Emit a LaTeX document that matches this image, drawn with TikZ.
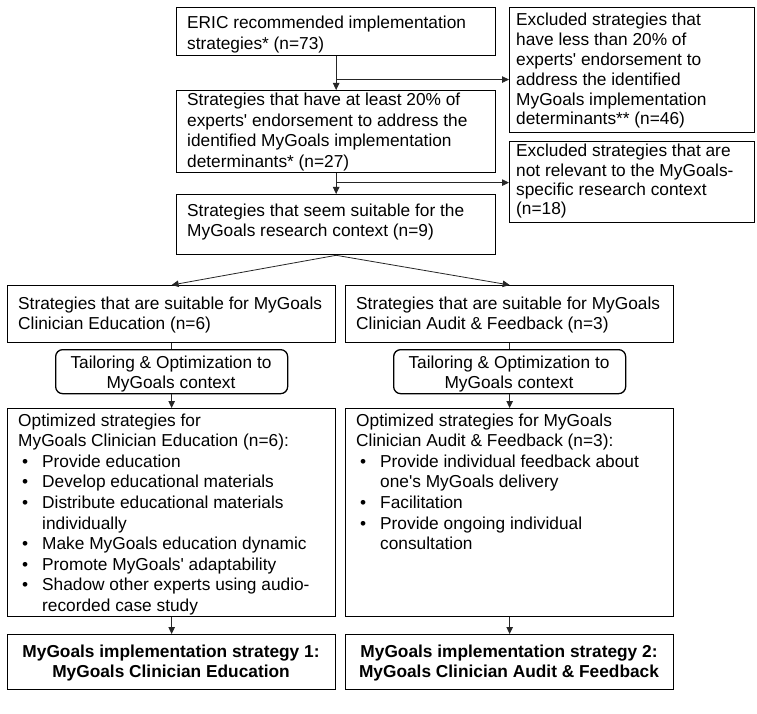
\documentclass[tikz,border=0pt]{standalone}
\usepackage{fontspec}
\setmainfont{Liberation Sans}[Ligatures=TeXOff]
\usetikzlibrary{arrows.meta}
\newcommand{\tlines}[1]{\begin{tabular}[t]{@{}l@{}}#1\end{tabular}}
\newcommand{\tclines}[1]{\begin{tabular}[t]{@{}c@{}}#1\end{tabular}}
\newcommand{\bul}{\makebox[24pt][l]{\hspace{4pt}•}}
\newcommand{\ind}{\hspace*{24pt}}
\begin{document}
\begin{tikzpicture}[x=1pt,y=-1pt,
  box/.style={draw=black, line width=1.3pt, rectangle, anchor=north west, inner sep=0pt},
  rbox/.style={box, rounded corners=7pt},
  txt/.style={anchor=base west, inner sep=0pt, font=\fontsize{17.3}{20.5}\selectfont},
  ctxt/.style={txt, anchor=base},
  conn/.style={draw=black!85, line width=0.8pt},
  arr/.style={conn, -{Triangle[length=7pt,width=6.5pt]}}]
\fill[white] (0,0) rectangle (757,714);
\useasboundingbox (0,0) rectangle (757,714);
% boxes
\node[box, minimum width=319pt, minimum height=48pt] (A) at (176,7) {};
\node[box, minimum width=319pt, minimum height=82pt] (B) at (176,90) {};
\node[box, minimum width=319pt, minimum height=60pt] (D) at (176,194) {};
\node[box, minimum width=245pt, minimum height=125pt] (C) at (509,7) {};
\node[box, minimum width=245pt, minimum height=81pt] (E) at (509,141) {};
\node[box, minimum width=328pt, minimum height=57pt] (F) at (7,285) {};
\node[box, minimum width=328pt, minimum height=57pt] (G) at (345,285) {};
\node[rbox, minimum width=232pt, minimum height=44pt] (T1) at (55,349) {};
\node[rbox, minimum width=232pt, minimum height=44pt] (T2) at (393,349) {};
\node[box, minimum width=328pt, minimum height=208pt] (H) at (7,408) {};
\node[box, minimum width=328pt, minimum height=208pt] (I) at (345,408) {};
\node[box, minimum width=328pt, minimum height=55pt] (J) at (7,634) {};
\node[box, minimum width=328pt, minimum height=55pt] (K) at (345,634) {};
% texts
\node[txt] (At) at (187,29) {\tlines{ERIC recommended implementation\\strategies* (n=73)}};
\node[txt] (Bt) at (187,106) {\tlines{Strategies that have at least 20\% of\\experts' endorsement to address the\\identified MyGoals implementation\\determinants* (n=27)}};
\node[txt] (Dt) at (187,216) {\tlines{Strategies that seem suitable for the\\MyGoals research context (n=9)}};
\node[txt, font=\fontsize{17.3}{19.8}\selectfont] (Ct) at (516,26) {\tlines{Excluded strategies that\\have less than 20\% of\\experts' endorsement to\\address the identified\\MyGoals implementation\\determinants** (n=46)}};
\node[txt, font=\fontsize{17.3}{19.3}\selectfont] (Et) at (516,157) {\tlines{Excluded strategies that are\\not relevant to the MyGoals-\\specific research context\\(n=18)}};
\node[txt] (Ft) at (18,309) {\tlines{Strategies that are suitable for MyGoals\\Clinician Education (n=6)}};
\node[txt] (Gt) at (356,309) {\tlines{Strategies that are suitable for MyGoals\\Clinician Audit \& Feedback (n=3)}};
\node[ctxt] (T1t) at (171,368) {\tclines{Tailoring \& Optimization to\\MyGoals context}};
\node[ctxt] (T2t) at (509,368) {\tclines{Tailoring \& Optimization to\\MyGoals context}};
\node[txt, font=\fontsize{17.3}{20.6}\selectfont] (Ht) at (18,426) {\tlines{Optimized strategies for\\MyGoals Clinician Education (n=6):\\
\bul Provide education\\
\bul Develop educational materials\\
\bul Distribute educational materials\\
\ind individually\\
\bul Make MyGoals education dynamic\\
\bul Promote MyGoals' adaptability\\
\bul Shadow other experts using audio-\\
\ind recorded case study}};
\node[txt, font=\fontsize{17.3}{20.6}\selectfont] (It) at (356,426) {\tlines{Optimized strategies for MyGoals\\Clinician Audit \& Feedback (n=3):\\
\bul Provide individual feedback about\\
\ind one's MyGoals delivery\\
\bul Facilitation\\
\bul Provide ongoing individual\\
\ind consultation}};
\node[ctxt, font=\fontsize{17.3}{20.6}\selectfont\bfseries] (Jt) at (171,657) {\tclines{MyGoals implementation strategy 1:\\MyGoals Clinician Education}};
\node[ctxt, font=\fontsize{17.3}{20.6}\selectfont\bfseries] (Kt) at (509,657) {\tclines{MyGoals implementation strategy 2:\\MyGoals Clinician Audit \& Feedback}};
% connectors
\path (A.south) -- (B.north) coordinate[pos=0.69] (j1);
\path (B.south) -- (D.north) coordinate[pos=0.45] (j2);
\draw[arr] (A.south) -- (B.north);
\draw[arr] (j1) -- (j1 -| C.west);
\draw[arr] (B.south) -- (D.north);
\draw[arr] (j2) -- (j2 -| E.west);
\draw[arr] (D.south) -- (F.north);
\draw[arr] (D.south) -- (G.north);
\draw[conn] (F.south) -- (T1.north);
\draw[arr] (T1.south) -- (H.north);
\draw[conn] (G.south) -- (T2.north);
\draw[arr] (T2.south) -- (I.north);
\draw[arr] (H.south) -- (J.north);
\draw[arr] (I.south) -- (K.north);
\end{tikzpicture}
\end{document}
